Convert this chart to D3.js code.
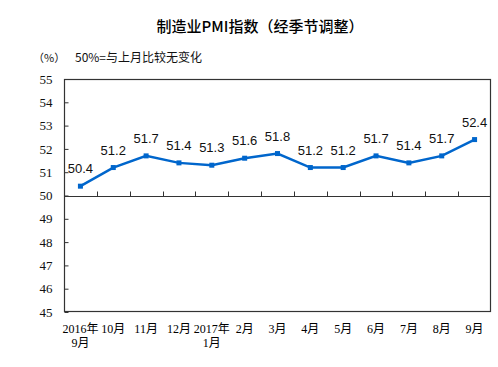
<!DOCTYPE html>
<html><head><meta charset="utf-8">
<script src="https://cdn.jsdelivr.net/npm/d3@7"></script>
<style>body{margin:0;background:#fff}svg{display:block}</style>
</head><body>
<script>
const categories = [["2016年","9月"],["10月"],["11月"],["12月"],["2017年","1月"],["2月"],["3月"],["4月"],["5月"],["6月"],["7月"],["8月"],["9月"]];
const pmiValues = [50.4,51.2,51.7,51.4,51.3,51.6,51.8,51.2,51.2,51.7,51.4,51.7,52.4];
const yTicks = [45,46,47,48,49,50,51,52,53,54,55];
const titleText = "制造业PMI指数（经季节调整）";
const unitText = "（%）";
const noteText = "50%=与上月比较无变化";

const W=498,H=367;
const m={l:64,r:491,t:79,b:312};
const svg=d3.select("body").append("svg").attr("width",W).attr("height",H);
const x=d3.scaleBand().domain(d3.range(categories.length)).range([m.l,m.r]);
const y=d3.scaleLinear().domain([45,55]).range([m.b,m.t]);

svg.append("text").attr("x",260).attr("y",32).attr("text-anchor","middle")
  .attr("font-family","'Noto Sans CJK SC',sans-serif").attr("font-size",15).attr("font-weight","500").attr("fill","#000").text(titleText);
svg.append("text").attr("x",33).attr("y",62)
  .attr("font-family","'Noto Sans CJK SC',sans-serif").attr("font-size",11).attr("fill","#111").text(unitText);
svg.append("text").attr("x",75).attr("y",62)
  .attr("font-family","'Noto Sans CJK SC',sans-serif").attr("font-size",12).attr("fill","#111").text(noteText);

// frame
svg.append("rect").attr("x",m.l+0.5).attr("y",m.t+0.5).attr("width",m.r-m.l-1).attr("height",m.b-m.t-1)
  .attr("fill","none").attr("stroke","#333").attr("stroke-width",1.2);

// y axis
const yAxis=d3.axisLeft(y).tickValues(yTicks).tickSize(-4).tickPadding(12).tickFormat(d3.format("d"));
const ga=svg.append("g").attr("transform",`translate(${m.l+0.5},0)`).call(yAxis);
ga.select(".domain").remove();
ga.selectAll("line").attr("stroke","#333");
ga.selectAll("text").attr("font-family","'Liberation Serif',serif").attr("font-size",13).attr("fill","#111");

// x axis at 50
const xb=d3.scaleLinear().domain([0,categories.length]).range([m.l,m.r]);
const gx=svg.append("g").attr("transform",`translate(0,${Math.round(y(50))+0.5})`);
gx.append("line").attr("x1",m.l).attr("x2",m.r).attr("stroke","#333").attr("stroke-width",1.2);
gx.selectAll("line.t").data(d3.range(1,categories.length)).enter().append("line").attr("class","t")
  .attr("x1",d=>Math.round(xb(d))+0.5).attr("x2",d=>Math.round(xb(d))+0.5).attr("y1",0).attr("y2",-5).attr("stroke","#333");

// x labels
const xl=svg.append("g");
categories.forEach((c,i)=>{
  const t=xl.append("text").attr("x",x(i)+x.bandwidth()/2).attr("y",333).attr("text-anchor","middle")
    .attr("font-family","'Liberation Serif','Noto Sans CJK SC',serif").attr("font-size",12).attr("fill","#000");
  c.forEach((s,j)=>t.append("tspan").attr("x",x(i)+x.bandwidth()/2).attr("dy",j?14:0).text(s));
});

const cx=i=>x(i)+x.bandwidth()/2;
svg.append("path").datum(pmiValues).attr("fill","none").attr("stroke","#0066CC").attr("stroke-width",2.5)
  .attr("d",d3.line().x((d,i)=>cx(i)).y(d=>y(d)));
svg.selectAll("rect.mk").data(pmiValues).enter().append("rect").attr("class","mk")
  .attr("x",(d,i)=>cx(i)-2.5).attr("y",d=>y(d)-2.5).attr("width",5).attr("height",5).attr("fill","#0066CC");
svg.selectAll("text.lb").data(pmiValues).enter().append("text").attr("class","lb")
  .attr("x",(d,i)=>cx(i)).attr("y",d=>y(d)-13).attr("text-anchor","middle")
  .attr("font-family","'Liberation Sans',Arial,sans-serif").attr("font-size",13).attr("fill","#111")
  .text(d=>d.toFixed(1));
</script>
</body></html>
